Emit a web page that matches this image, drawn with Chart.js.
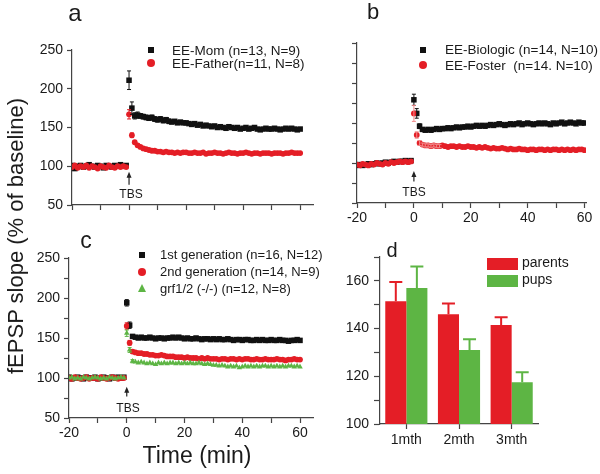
<!DOCTYPE html>
<html>
<head>
<meta charset="utf-8">
<script src="https://cdn.jsdelivr.net/npm/chart.js@4.4.1/dist/chart.umd.min.js"></script>
<style>
  body { margin: 0; background: #fff; }
  #fig { position: relative; width: 600px; height: 474px; overflow: hidden; background: #fff;
         font-family: "Liberation Sans", Arial, sans-serif; color: #1a1a1a; }
  #fig canvas { position: absolute; left: 0; top: 0; }
  .t { position: absolute; white-space: pre; line-height: 1; }
  .mk { position: absolute; }
</style>
</head>
<body>
<div id="fig">
  <canvas id="chartA" width="600" height="474"></canvas>
  <canvas id="chartB" width="600" height="474"></canvas>
  <canvas id="chartC" width="600" height="474"></canvas>
  <canvas id="chartD" width="600" height="474"></canvas>
</div>
<script>
// minutes relative to TBS, one sample per minute
const minutes = [];
for (let m = -20; m <= 60; m++) minutes.push(m);
const timeTicks = [-20, -10, 0, 10, 20, 30, 40, 50, 60];

// panel a
const momVals = [
  101, 97, 100, 101, 99, 100, 102, 100, 99, 101,
  100, 98, 101, 100, 99, 101, 100, 102, 100, 101,
  211, 175, 165, 166, 165, 164, 163, 162, 163, 161,
  160, 161, 159, 160, 158, 157, 158, 156, 157, 156,
  156, 155, 154, 155, 153, 154, 152, 153, 152, 151,
  152, 150, 151, 150, 149, 151, 150, 149, 150, 148,
  149, 150, 148, 149, 150, 148, 147, 148, 149, 148,
  148, 149, 148, 147, 148, 149, 148, 149, 148, 147,
  148
];
const fatherVals = [
  99, 101, 98, 100, 99, 101, 98, 100, 99, 97,
  100, 99, 98, 101, 99, 98, 100, 99, 100, 99,
  167, 140, 131, 127, 125, 123, 122, 121, 120, 120,
  119, 119, 118, 119, 118, 118, 117, 118, 117, 118,
  118, 117, 117, 118, 117, 117, 118, 116, 117, 117,
  118, 117, 117, 116, 117, 118, 117, 117, 116, 117,
  117, 118, 117, 116, 117, 117, 116, 117, 117, 117,
  116, 117, 117, 117, 116, 117, 117, 118, 117, 117,
  117
];
// SEM from TBS onward
const momErr = [12, 8, 4, 4, 3, 3, 3, 3, 3, 3, 3, 3, 3, 3, 3];
const fatherErr = [6, 3, 2, 2];

// panel b
const biologicVals = [
  97, 98, 97, 98, 99, 98, 99, 100, 99, 100,
  101, 100, 101, 102, 101, 102, 102, 103, 102, 103,
  179, 162, 146, 142, 141, 142, 141, 142, 143, 142,
  143, 143, 144, 143, 144, 145, 144, 145, 145, 146,
  145, 146, 147, 146, 147, 146, 147, 148, 147, 148,
  149, 148, 147, 148, 149, 148, 149, 150, 148, 149,
  150, 149, 148, 149, 150, 149, 150, 149, 148, 150,
  149, 150, 151, 149, 150, 151, 150, 149, 151, 150,
  150
];
const fosterVals = [
  98, 97, 99, 98, 97, 99, 98, 100, 99, 98,
  100, 99, 101, 100, 101, 102, 101, 102, 101, 102,
  162, 135, 125, 123, 122, 122, 121, 122, 121, 121,
  122, 121, 120, 121, 121, 120, 121, 120, 120, 121,
  120, 120, 119, 120, 119, 120, 119, 118, 119, 118,
  118, 119, 118, 117, 118, 117, 117, 118, 117, 117,
  116, 117, 117, 116, 117, 117, 116, 117, 116, 117,
  117, 116, 117, 116, 117, 116, 117, 116, 117, 117,
  116
];
const biologicErr = [7, 6, 3, 2, 2, 2, 2, 2];
const fosterErr = [10, 4, 3, 2, 2, 2, 2, 2, 2, 2];

// panel c
const gen1Vals = [
  101, 99, 100, 101, 100, 99, 101, 100, 100, 101,
  99, 100, 101, 100, 99, 101, 100, 101, 100, 101,
  194, 166, 152, 151, 150, 151, 150, 150, 151, 150,
  149, 150, 150, 149, 150, 150, 151, 150, 151, 150,
  149, 150, 149, 149, 150, 149, 148, 149, 149, 148,
  149, 148, 149, 148, 148, 149, 148, 147, 148, 148,
  147, 148, 148, 147, 147, 148, 147, 148, 147, 147,
  148, 147, 147, 148, 147, 147, 146, 147, 147, 148,
  147
];
const gen2Vals = [
  100, 99, 101, 100, 99, 100, 101, 99, 100, 100,
  99, 101, 100, 99, 100, 101, 100, 99, 100, 100,
  165, 144, 133, 132, 131, 131, 130, 130, 129, 129,
  128, 128, 129, 128, 127, 127, 127, 126, 126, 126,
  125, 126, 125, 125, 125, 124, 125, 124, 125, 124,
  124, 124, 123, 124, 124, 123, 124, 124, 123, 124,
  123, 124, 124, 123, 123, 124, 123, 123, 124, 123,
  123, 123, 124, 123, 123, 122, 123, 123, 124, 123,
  123
];
const grfVals = [
  100, 101, 99, 100, 99, 101, 100, 99, 100, 101,
  100, 99, 100, 99, 101, 100, 99, 100, 101, 100,
  156, 135, 121, 120, 119, 120, 119, 118, 119, 118,
  117, 119, 118, 119, 118, 119, 119, 118, 119, 118,
  119, 118, 119, 118, 118, 119, 118, 117, 118, 117,
  116, 116, 115, 116, 115, 114, 115, 114, 115, 113,
  114, 115, 114, 115, 114, 115, 114, 115, 115, 114,
  115, 114, 115, 114, 115, 114, 115, 115, 114, 115,
  114
];
const gen1Err = [4, 4, 2];
const gen2Err = [4, 3, 2];
const grfErr = [4, 3, 2];

// panel d
const months = ['1mth', '2mth', '3mth'];
const parentsVals = [151.5, 146, 141.5];
const pupsVals = [157, 131, 117.5];
const parentsErr = [8, 4.5, 3.2];
const pupsErr = [9, 4.5, 4.2];

const BLACK = '#111111', RED = '#e41e26', GREEN = '#5db544';
const AXIS = '#444444', TXT = '#1a1a1a';

Chart.defaults.font.family = '"Liberation Sans", Arial, sans-serif';
Chart.defaults.color = TXT;

function pts(vals) {
  return vals.map((v, i) => ({ x: minutes[i], y: v }));
}

// error bars on time courses, values start at TBS (index 20)
const seriesErrors = {
  id: 'seriesErrors',
  afterDatasetsDraw(chart) {
    const ctx = chart.ctx, ys = chart.scales.y;
    chart.data.datasets.forEach((ds, di) => {
      if (!ds.errs) return;
      const meta = chart.getDatasetMeta(di);
      ctx.save();
      ctx.strokeStyle = ds.errColor || ds.borderColor;
      ctx.lineWidth = 1;
      ds.errs.forEach((e, j) => {
        const i = 20 + j, el = meta.data[i];
        if (!el) return;
        const v = ds.data[i].y;
        const y1 = ys.getPixelForValue(v + e), y2 = ys.getPixelForValue(v - e);
        ctx.beginPath();
        ctx.moveTo(el.x, y1); ctx.lineTo(el.x, y2);
        ctx.moveTo(el.x - 2, y1); ctx.lineTo(el.x + 2, y1);
        ctx.moveTo(el.x - 2, y2); ctx.lineTo(el.x + 2, y2);
        ctx.stroke();
      });
      ctx.restore();
    });
  }
};

// TBS arrow under time zero
const tbsArrow = {
  id: 'tbsArrow',
  afterDraw(chart, args, opts) {
    const ctx = chart.ctx;
    const x = chart.scales.x.getPixelForValue(0);
    const yt = chart.scales.y.getPixelForValue(opts.top);
    const yb = chart.scales.y.getPixelForValue(opts.bottom);
    ctx.save();
    ctx.strokeStyle = '#222'; ctx.fillStyle = '#222'; ctx.lineWidth = 1.2;
    ctx.beginPath(); ctx.moveTo(x, yt + 4); ctx.lineTo(x, yb); ctx.stroke();
    ctx.beginPath(); ctx.moveTo(x, yt); ctx.lineTo(x - 2.5, yt + 6); ctx.lineTo(x + 2.5, yt + 6); ctx.closePath(); ctx.fill();
    ctx.restore();
  }
};

const barErrors = {
  id: 'barErrors',
  afterDatasetsDraw(chart) {
    const ctx = chart.ctx, ys = chart.scales.y;
    chart.data.datasets.forEach((ds, di) => {
      const meta = chart.getDatasetMeta(di);
      ctx.save();
      ctx.strokeStyle = ds.backgroundColor;
      ctx.lineWidth = 2;
      ds.errs.forEach((e, i) => {
        const el = meta.data[i];
        const top = ys.getPixelForValue(ds.data[i] + e);
        ctx.beginPath();
        ctx.moveTo(el.x, el.y); ctx.lineTo(el.x, top);
        ctx.moveTo(el.x - 6.5, top); ctx.lineTo(el.x + 6.5, top);
        ctx.stroke();
      });
      ctx.restore();
    });
  }
};

function timeScales(o) {
  return {
    x: {
      type: 'linear', min: -20, max: o.xMax,
      afterBuildTicks: s => { s.ticks = timeTicks.map(v => ({ value: v })); },
      afterFit: s => { s.height = o.xH; },
      grid: { drawOnChartArea: false, tickLength: 5, tickColor: AXIS, tickWidth: 1.2 },
      border: { color: AXIS, width: 1.2 },
      ticks: { maxRotation: 0, autoSkip: false, padding: 2, font: { size: 14 },
               callback: v => (o.xLabels && v % 20 === 0) ? v : '' }
    },
    y: {
      min: 50, max: 250,
      afterFit: s => { s.width = o.yW; },
      grid: { drawOnChartArea: false, tickLength: 5, tickColor: AXIS, tickWidth: 1.2 },
      border: { color: AXIS, width: 1.2 },
      ticks: { stepSize: 25, padding: 4, font: { size: 14 },
               callback: v => (o.yLabels && v % 50 === 0) ? v : '' }
    }
  };
}

function pad(left, top, right, bottom, yW, xH) {
  return { left: left - yW, top: top, right: 600 - right, bottom: 474 - bottom - xH };
}

function ds(vals, style, color, radius, order, errs, errColor) {
  return {
    data: pts(vals), pointStyle: style, pointRadius: radius, borderWidth: 0,
    backgroundColor: color, borderColor: color, showLine: false, order: order,
    errs: errs, errColor: errColor
  };
}

function common(padding, scales, arrow) {
  return {
    responsive: false, animation: false, devicePixelRatio: 1,
    layout: { padding: padding },
    scales: scales,
    plugins: { legend: { display: false }, tooltip: { enabled: false }, tbsArrow: arrow }
  };
}

new Chart(document.getElementById('chartA'), {
  type: 'scatter',
  data: { datasets: [
    ds(momVals, 'rect', BLACK, 3.9, 2, momErr),
    ds(fatherVals, 'circle', RED, 2.9, 1, fatherErr)
  ] },
  options: common(pad(72, 50, 313, 205, 40, 20),
    timeScales({ xMax: 64.5, xH: 20, yW: 40, xLabels: false, yLabels: true }),
    { top: 93, bottom: 76 }),
  plugins: [seriesErrors, tbsArrow]
});

new Chart(document.getElementById('chartB'), {
  type: 'scatter',
  data: { datasets: [
    ds(biologicVals, 'rect', BLACK, 3.9, 2, biologicErr),
    ds(fosterVals, 'circle', RED, 2.9, 1, fosterErr, '#f08a8a')
  ] },
  options: common(pad(357, 43, 586, 203, 20, 30),
    timeScales({ xMax: 60.5, xH: 30, yW: 20, xLabels: true, yLabels: false }),
    { top: 90, bottom: 77 }),
  plugins: [seriesErrors, tbsArrow]
});

new Chart(document.getElementById('chartC'), {
  type: 'scatter',
  data: { datasets: [
    ds(gen1Vals, 'rect', BLACK, 3.9, 3, gen1Err),
    ds(gen2Vals, 'circle', RED, 2.9, 2, gen2Err),
    ds(grfVals, 'triangle', GREEN, 3.2, 1, grfErr)
  ] },
  options: common(pad(69, 258, 313, 418, 40, 30),
    timeScales({ xMax: 64.5, xH: 30, yW: 40, xLabels: true, yLabels: true }),
    { top: 89, bottom: 77 }),
  plugins: [seriesErrors, tbsArrow]
});

new Chart(document.getElementById('chartD'), {
  type: 'bar',
  data: {
    labels: months,
    datasets: [
      { data: parentsVals, backgroundColor: RED, errs: parentsErr, barPercentage: 1, categoryPercentage: 0.8 },
      { data: pupsVals, backgroundColor: GREEN, errs: pupsErr, barPercentage: 1, categoryPercentage: 0.8 }
    ]
  },
  options: {
    responsive: false, animation: false, devicePixelRatio: 1,
    layout: { padding: pad(380, 257, 538, 424, 40, 30) },
    scales: {
      x: {
        afterFit: s => { s.height = 30; },
        grid: { drawOnChartArea: false, offset: false, tickLength: 5, tickColor: AXIS, tickWidth: 1.2 },
        border: { color: AXIS, width: 1.2 },
        ticks: { padding: 3, font: { size: 14 } }
      },
      y: {
        min: 100, max: 170,
        afterFit: s => { s.width = 40; },
        grid: { drawOnChartArea: false, tickLength: 6, tickColor: AXIS, tickWidth: 1.2 },
        border: { color: AXIS, width: 1.2 },
        ticks: { stepSize: 10, padding: 5, font: { size: 14 }, callback: v => v % 20 === 0 ? v : '' }
      }
    },
    plugins: { legend: { display: false }, tooltip: { enabled: false } }
  },
  plugins: [barErrors]
});

// text and legend keys
const fig = document.getElementById('fig');
function put(text, x, base, size, center) {
  const d = document.createElement('div');
  d.className = 't';
  d.textContent = text;
  d.style.fontSize = size + 'px';
  d.style.left = x + 'px';
  d.style.top = (base - 0.8465 * size) + 'px';
  if (center) d.style.transform = 'translateX(-50%)';
  fig.appendChild(d);
  return d;
}
function key(shape, cx, cy, color) {
  const d = document.createElement('div');
  d.className = 'mk';
  if (shape === 'square') {
    Object.assign(d.style, { width: '6px', height: '6px', left: (cx - 3) + 'px', top: (cy - 3) + 'px', background: color });
  } else if (shape === 'circle') {
    Object.assign(d.style, { width: '8px', height: '8px', left: (cx - 4) + 'px', top: (cy - 4) + 'px', background: color, borderRadius: '50%' });
  } else {
    Object.assign(d.style, { width: '0', height: '0', left: (cx - 4.5) + 'px', top: (cy - 4) + 'px',
      borderLeft: '4.5px solid transparent', borderRight: '4.5px solid transparent', borderBottom: '8px solid ' + color });
  }
  fig.appendChild(d);
}

put('a', 75, 21.7, 24, true);
put('b', 373, 20, 22, true);
put('c', 86, 248.3, 23, true);
put('d', 392, 256.7, 20, true);

put('TBS', 131, 198, 12, true);
put('TBS', 414, 196.5, 12, true);
put('TBS', 128, 412.5, 12, true);

key('square', 151, 50, BLACK);
put('EE-Mom (n=13, N=9)', 172, 55, 13.5);
key('circle', 151, 63, RED);
put('EE-Father(n=11, N=8)', 172, 68, 13.5);

key('square', 423, 49.5, BLACK);
put('EE-Biologic (n=14, N=10)', 445, 54.5, 13.5);
key('circle', 423, 65, RED);
put('EE-Foster  (n=14. N=10)', 445, 70, 13.5);

key('square', 142, 255, BLACK);
put('1st generation (n=16, N=12)', 160, 259.5, 13);
key('circle', 142, 272, RED);
put('2nd generation (n=14, N=9)', 160, 276.5, 13);
key('triangle', 142, 288, GREEN);
put('grf1/2 (-/-) (n=12, N=8)', 160, 293, 13);

const swRed = document.createElement('div');
Object.assign(swRed.style, { position: 'absolute', left: '487px', top: '258px', width: '31px', height: '12px', background: RED });
fig.appendChild(swRed);
const swGreen = document.createElement('div');
Object.assign(swGreen.style, { position: 'absolute', left: '487px', top: '275px', width: '31px', height: '12px', background: GREEN });
fig.appendChild(swGreen);
put('parents', 522, 267, 14);
put('pups', 522, 284, 14);

put('Time (min)', 197, 463, 23, true);
const yTitle = document.createElement('div');
yTitle.className = 't';
yTitle.textContent = 'fEPSP slope (% of baseline)';
Object.assign(yTitle.style, { fontSize: '22px', left: '16px', top: '236px', transform: 'translate(-50%, -50%) rotate(-90deg)' });
fig.appendChild(yTitle);
</script>
</body>
</html>
